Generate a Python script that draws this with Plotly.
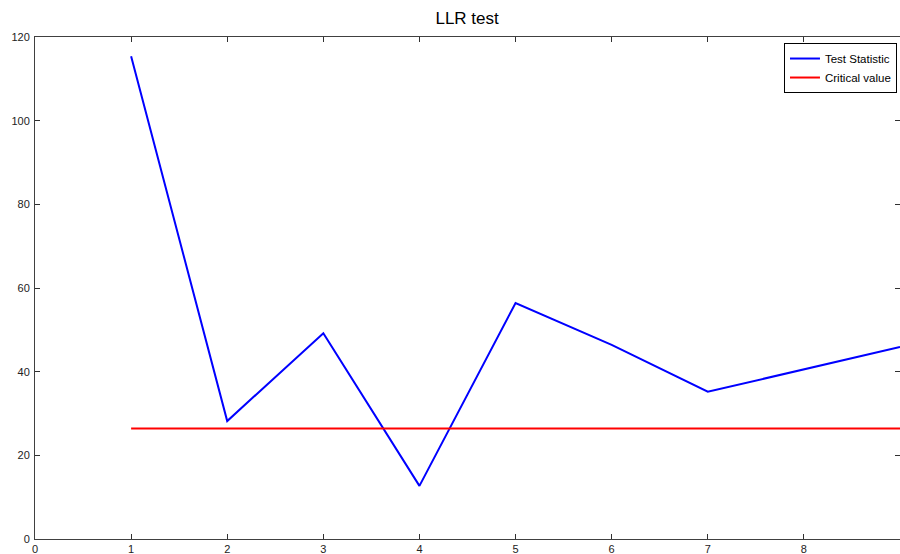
import plotly.graph_objects as go

x_vals = [1, 2, 3, 4, 5, 6, 7, 8, 9]
test_statistic = [115.4, 28.2, 49.2, 12.7, 56.4, 46.4, 35.2, 40.6, 45.9]
critical_value = [26.4] * 9
x_ticks = [0, 1, 2, 3, 4, 5, 6, 7, 8]
y_ticks = [0, 20, 40, 60, 80, 100, 120]

fig = go.Figure()
fig.add_trace(go.Scatter(x=x_vals, y=test_statistic, mode="lines",
                         line=dict(color="#0000FF", width=2), name="Test Statistic"))
fig.add_trace(go.Scatter(x=x_vals, y=critical_value, mode="lines",
                         line=dict(color="#FF0000", width=2), name="Critical value"))

axis_common = dict(showgrid=False, zeroline=False, showline=True, linecolor="#404040",
                   linewidth=1, ticks="inside", ticklen=5, tickcolor="#303030",
                   mirror="allticks", tickfont=dict(family="Arial", size=11, color="#222222"))

fig.update_layout(
    width=900, height=554,
    paper_bgcolor="white", plot_bgcolor="white",
    margin=dict(l=35, r=0, t=37, b=15, autoexpand=False),
    title=dict(text="LLR test", x=0.519, xanchor="center", y=0.968, yanchor="middle",
               font=dict(family="Arial", size=17, color="#000000")),
    xaxis=dict(range=[0, 9], tickvals=x_ticks, ticklabelstandoff=0, **axis_common),
    yaxis=dict(range=[0, 120], tickvals=y_ticks, ticklabelstandoff=2, **axis_common),
    legend=dict(x=0.9965, xanchor="right", y=0.988, yanchor="top",
                bordercolor="#000000", borderwidth=1, bgcolor="white",
                font=dict(family="Arial", size=11.5, color="#000000"),
                tracegroupgap=0, itemwidth=30),
    showlegend=True,
)

fig.write_html("out.html", config={"displayModeBar": False},
               post_script="document.body.style.margin='0';document.body.style.overflow='hidden';")
